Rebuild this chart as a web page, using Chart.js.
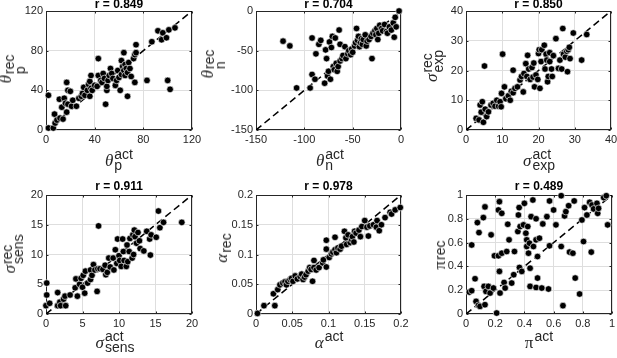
<!DOCTYPE html>
<html><head><meta charset="utf-8">
<script src="https://cdn.jsdelivr.net/npm/chart.js@4.4.0/dist/chart.umd.min.js"></script>
<style>
html,body{margin:0;padding:0;background:#fff;width:617px;height:358px;overflow:hidden;position:relative}
canvas{position:absolute}
.lab{position:absolute;display:flex;align-items:center;white-space:nowrap;color:#262626;transform:translate(-50%,-50%)}
.lab.y{transform:translate(-50%,-50%) rotate(-90deg)}
.g{font-family:"Liberation Serif";font-size:17px;line-height:17px;font-style:italic;position:relative}
.g.up{font-style:normal}
.ss{display:flex;flex-direction:column;font-family:"Liberation Sans";font-size:14px;line-height:11px;margin-left:1px}
</style></head><body>
<script>
// ---- data (actual, recovered) ----
const thetaP = [[2,2],[6,2],[2,35],[7,16],[7.5,7],[9,10],[11,31],[11.5,12],[14,11],[13,23],[15,32],[16,27],[17,18],[17,48],[18,40],[18,26],[20,39],[21,24],[22,30],[25,24],[27,32],[29,34],[30,37],[31,43],[32,35],[34,40],[35,46],[36,49],[36,34],[37,55],[37,42],[38,40],[40,45],[42,44],[43,72],[43,55],[45,50],[46,48],[47,57],[48,52],[49,26],[50,40],[50,44],[51,50],[52,55],[53,62],[54,57],[55,52],[57,45],[58,50],[59,60],[60,53],[61,40],[62,70],[62,56],[63,64],[64,78],[64,60],[65,55],[65,66],[66,62],[67,34],[67,58],[68,68],[69,62],[70,54],[72,72],[73,48],[73,76],[74,86],[74,78],[83,50],[87,89],[92,100],[95,91],[96,98],[99,93],[100,50],[101,101],[102,41],[106,103]];
const thetaN = [[-122,-38],[-115,-44],[-108,-97],[-94,-97],[-92,-80],[-92,-34],[-89,-86],[-88,-54],[-85,-42],[-83,-37],[-79,-91],[-78,-49],[-77,-60],[-76,-82],[-75,-76],[-74,-39],[-73,-86],[-72,-46],[-71,-32],[-70,-70],[-69,-74],[-68,-34],[-67,-66],[-66,-76],[-65,-70],[-64,-24],[-63,-42],[-63,-63],[-61,-60],[-60,-56],[-58,-45],[-57,-60],[-55,-54],[-54,-50],[-52,-55],[-51,-48],[-50,-52],[-48,-44],[-47,-40],[-46,-22],[-45,-37],[-44,-32],[-43,-45],[-42,-40],[-41,-35],[-40,-42],[-39,-36],[-37,-30],[-36,-44],[-35,-38],[-33,-36],[-31,-32],[-30,-60],[-29,-28],[-27,-25],[-26,-30],[-25,-22],[-24,-36],[-23,-28],[-22,-18],[-20,-22],[-19,-25],[-17,-17],[-15,-26],[-14,-28],[-12,-20],[-10,-24],[-8,-15],[-7,-33],[-6,-8],[-5,-20],[-2,0]];
const sigmaExp = [[2.8,3.9],[3.6,3.4],[3.9,8.4],[4.2,6.0],[4.5,9.5],[4.8,2.6],[5.1,21.5],[5.3,7.0],[5.7,4.5],[6.2,6.1],[6.9,8.4],[7.5,9.0],[8.0,8.0],[8.5,10.0],[9.0,8.0],[9.4,9.5],[9.7,7.8],[10.1,25.5],[9.8,12.3],[10.6,14.5],[11.0,10.5],[11.7,11.5],[12.2,10.0],[12.5,13.0],[13.0,20.1],[13.0,12.5],[13.5,14.0],[14.2,14.5],[14.9,16.8],[15.3,18.0],[15.8,12.8],[16.0,19.0],[16.5,22.3],[16.8,18.0],[17.0,25.1],[17.3,20.5],[17.7,17.0],[18.2,21.0],[18.5,17.8],[18.7,22.5],[18.9,14.5],[19.3,18.5],[19.8,17.0],[20.0,25.7],[20.2,27.0],[20.4,14.0],[20.7,23.0],[20.9,27.0],[21.6,28.5],[21.8,20.5],[22.1,25.5],[22.3,23.5],[22.5,16.2],[22.7,18.0],[23.1,26.0],[23.1,23.0],[23.6,20.5],[23.8,18.0],[24.1,25.0],[24.8,30.7],[25.5,20.7],[25.9,23.5],[26.4,20.5],[26.7,34.1],[26.9,25.5],[27.4,24.5],[27.8,26.5],[28.0,19.6],[28.2,27.0],[28.5,27.8],[28.7,24.0],[29.6,32.6],[31.9,23.5],[33.3,32.1]];
const sigmaSens = [[0.1,5.2],[0.1,3.2],[0,1.4],[0.5,1.8],[1.6,3.6],[1.6,1.4],[1.9,2.0],[2.0,1.4],[2.4,2.5],[2.7,1.4],[2.6,3.0],[3.3,3.2],[4.0,4.4],[4.1,5.9],[4.3,3.0],[4.6,5.0],[4.8,6.0],[5.0,4.5],[5.1,6.5],[5.4,7.2],[5.3,3.5],[5.7,5.2],[6.1,5.8],[6.1,7.4],[6.3,6.5],[6.5,8.3],[6.7,7.4],[7.0,3.8],[7.2,14.8],[7.1,7.6],[7.4,7.6],[7.8,7.5],[8.1,8.2],[8.2,6.6],[8.4,7.0],[8.6,9.4],[8.8,7.9],[9.2,9.4],[9.3,7.4],[9.5,10.8],[9.7,8.5],[9.8,12.6],[10.0,9.8],[10.1,9.0],[10.3,8.0],[10.5,12.6],[10.6,10.5],[10.7,9.0],[11.0,8.0],[11.1,11.6],[11.2,8.8],[11.4,10.5],[11.5,12.7],[11.8,9.4],[11.9,13.3],[12.0,10.0],[12.1,14.1],[12.2,13.0],[12.4,11.9],[12.6,13.7],[12.8,12.3],[12.9,11.0],[13.4,10.6],[13.8,13.9],[14.2,12.6],[14.3,9.9],[14.4,13.3],[15.1,12.9],[15.4,17.3],[15.6,14.5],[16.1,15.4],[18.6,15.4]];
const alphaVals = [[0.002,0.001],[0.011,0.014],[0.024,0.034],[0.026,0.014],[0.030,0.041],[0.033,0.049],[0.037,0.052],[0.040,0.054],[0.042,0.049],[0.044,0.055],[0.047,0.058],[0.049,0.060],[0.051,0.055],[0.054,0.064],[0.057,0.059],[0.061,0.063],[0.063,0.067],[0.065,0.058],[0.067,0.062],[0.069,0.066],[0.072,0.072],[0.074,0.078],[0.076,0.075],[0.078,0.055],[0.080,0.090],[0.080,0.078],[0.083,0.074],[0.087,0.078],[0.092,0.086],[0.093,0.091],[0.097,0.124],[0.097,0.109],[0.097,0.079],[0.101,0.095],[0.104,0.101],[0.106,0.104],[0.109,0.129],[0.109,0.108],[0.111,0.103],[0.113,0.111],[0.116,0.109],[0.118,0.114],[0.122,0.139],[0.124,0.128],[0.125,0.117],[0.127,0.133],[0.130,0.120],[0.132,0.125],[0.133,0.130],[0.135,0.121],[0.136,0.139],[0.138,0.136],[0.142,0.141],[0.144,0.130],[0.146,0.147],[0.150,0.157],[0.153,0.146],[0.155,0.131],[0.157,0.148],[0.162,0.150],[0.166,0.146],[0.167,0.157],[0.170,0.140],[0.173,0.150],[0.178,0.162],[0.185,0.171],[0.187,0.168],[0.192,0.175],[0.199,0.179]];
const piVals = [[0.023,0.184],[0.039,0.196],[0.039,0.58],[0.062,0.296],[0.069,0.106],[0.078,0.768],[0.085,0.073],[0.089,0.684],[0.096,0.064],[0.119,0.81],[0.124,0.232],[0.13,0.9],[0.13,0.078],[0.137,0.19],[0.153,0.232],[0.165,0.176],[0.172,0.665],[0.188,0.218],[0.195,0.489],[0.21,0.008],[0.222,0.489],[0.222,0.874],[0.229,0.944],[0.229,0.358],[0.233,0.176],[0.245,0.846],[0.245,0.511],[0.261,0.265],[0.268,0.218],[0.279,0.525],[0.286,0.754],[0.295,0.623],[0.313,0.26],[0.327,0.33],[0.332,0.525],[0.355,0.693],[0.359,0.832],[0.364,0.894],[0.366,0.391],[0.371,0.735],[0.382,0.358],[0.394,0.749],[0.4,0.93],[0.41,0.679],[0.416,0.623],[0.416,0.567],[0.423,0.735],[0.428,0.511],[0.435,0.595],[0.439,0.232],[0.439,0.385],[0.446,0.818],[0.458,0.958],[0.462,0.567],[0.48,0.623],[0.48,0.223],[0.48,0.8],[0.49,0.483],[0.49,0.302],[0.503,0.637],[0.519,0.218],[0.526,0.757],[0.554,0.818],[0.565,0.21],[0.572,0.573],[0.572,0.95],[0.6,0.874],[0.616,0.749],[0.652,0.994],[0.652,0.567],[0.664,0.07],[0.675,0.824],[0.684,0.86],[0.703,0.91],[0.709,0.52],[0.732,0.511],[0.741,0.95],[0.748,0.302],[0.778,0.168],[0.794,0.79],[0.805,0.609],[0.812,0.894],[0.828,0.832],[0.847,0.939],[0.858,0.52],[0.863,0.916],[0.874,0.883],[0.897,0.93],[0.902,0.846],[0.908,0.888],[0.943,0.978],[0.961,0.994],[0.97,0.749]];

const titles = ['r = 0.849','r = 0.704','r = 0.850','r = 0.911','r = 0.978','r = 0.489'];
const thetaPTicks = [0,40,80,120];      const thetaPTickLabels = ['0','40','80','120'];
const thetaNTicks = [-150,-100,-50,0];  const thetaNTickLabels = ['-150','-100','-50','0'];
const sigmaExpTicks = [0,10,20,30,40];  const sigmaExpTickLabels = ['0','10','20','30','40'];
const sigmaSensTicks = [0,5,10,15,20];  const sigmaSensTickLabels = ['0','5','10','15','20'];
const alphaTicks = [0,0.05,0.1,0.15,0.2]; const alphaTickLabels = ['0','0.05','0.1','0.15','0.2'];
const piTicks = [0,0.2,0.4,0.6,0.8,1];  const piTickLabels = ['0','0.2','0.4','0.6','0.8','1'];

// ---- layout ----
const panels = [
  {data:thetaP, ticks:thetaPTicks, labels:thetaPTickLabels, l:46, r:192, t:11, b:130, row:0,
   g:'θ', gUp:false, sub:'p', xl:[119,160], yl:[15,69], shift:-10},
  {data:thetaN, ticks:thetaNTicks, labels:thetaNTickLabels, l:256, r:401, t:11, b:130, row:0,
   g:'θ', gUp:false, sub:'n', xl:[330,160], yl:[215,64], shift:-8},
  {data:sigmaExp, ticks:sigmaExpTicks, labels:sigmaExpTickLabels, l:466, r:611, t:11, b:130, row:0,
   g:'σ', gUp:false, sub:'exp', xl:[539,160], yl:[433,66], shift:-2},
  {data:sigmaSens, ticks:sigmaSensTicks, labels:sigmaSensTickLabels, l:46, r:192, t:195, b:314, row:1,
   g:'σ', gUp:false, sub:'sens', xl:[115,342], yl:[13,254], shift:-4},
  {data:alphaVals, ticks:alphaTicks, labels:alphaTickLabels, l:256, r:401, t:195, b:314, row:1,
   g:'α', gUp:false, sub:'', xl:[329,342], yl:[232,248], shift:-11},
  {data:piVals, ticks:piTicks, labels:piTickLabels, l:466, r:612, t:195, b:314, row:1,
   g:'π', gUp:true, sub:'', xl:[539,342], yl:[446,255], shift:-7}
];

const YW = 46, XH = 20, PR = 14;

const boxPlugin = {
  id:'box',
  beforeDatasetsDraw(chart){
    const {ctx, chartArea:a, scales} = chart;
    ctx.save();
    ctx.strokeStyle = '#262626'; ctx.lineWidth = 1;
    const L = Math.round(a.left)+0.5, T = Math.round(a.top)+0.5;
    const R = Math.round(a.right)-0.5, B = Math.round(a.bottom)-0.5;
    ctx.strokeRect(L, T, R-L, B-T);
    ctx.beginPath();
    scales.x.ticks.forEach(tk => {
      const px = Math.round(scales.x.getPixelForValue(tk.value))+0.5;
      ctx.moveTo(px, B); ctx.lineTo(px, B-2);
      ctx.moveTo(px, T); ctx.lineTo(px, T+2);
    });
    scales.y.ticks.forEach(tk => {
      const py = Math.round(scales.y.getPixelForValue(tk.value))+0.5;
      ctx.moveTo(L, py); ctx.lineTo(L+2, py);
      ctx.moveTo(R, py); ctx.lineTo(R-2, py);
    });
    ctx.stroke();
    ctx.restore();
  }
};

function axisOpts(p, isX){
  return {
    type:'linear', min:p.ticks[0], max:p.ticks[p.ticks.length-1],
    afterBuildTicks: s => { s.ticks = p.ticks.map(v => ({value:v})); },
    afterFit: s => { if (isX) s.height = XH; else s.width = YW; },
    grid:{color:'#dedede', lineWidth:1, drawTicks:false},
    border:{display:false},
    ticks:{callback:(v,i) => p.labels[i], color:'#262626', padding:3, maxRotation:0, autoSkip:false,
           font:{family:'Liberation Sans', size:11}}
  };
}

panels.forEach((p, k) => {
  const titleH = p.row === 0 ? 12 : 14;
  const cTop = p.t - titleH;
  const cLeft = p.l - YW;
  const cv = document.createElement('canvas');
  const w = (p.r - p.l) + YW + PR, h = (p.b - cTop) + XH;
  cv.width = w; cv.height = h;
  cv.style.left = cLeft + 'px'; cv.style.top = cTop + 'px';
  cv.style.width = w + 'px'; cv.style.height = h + 'px';
  document.body.appendChild(cv);
  const lo = p.ticks[0], hi = p.ticks[p.ticks.length-1];
  new Chart(cv, {
    type:'scatter',
    data:{datasets:[
      {data:p.data.map(d => ({x:d[0], y:d[1]})), order:1, clip:false,
       pointRadius:3.3, pointBackgroundColor:'#000', pointBorderColor:'#fff', pointBorderWidth:0.6},
      {data:[{x:lo,y:lo},{x:hi,y:hi}], order:2, showLine:true, pointRadius:0,
       borderColor:'#000', borderWidth:1.5, borderDash:[7,4]}
    ]},
    options:{
      responsive:false, animation:false, devicePixelRatio:1,
      layout:{padding:{left:0, right:PR, top:0, bottom:0}},
      plugins:{
        legend:{display:false}, tooltip:{enabled:false},
        title:{display:true, text:titles[k], fullSize:false, color:'#000',
               font:{family:'Liberation Sans', size:12, weight:'bold', lineHeight:1},
               padding:{top:0, bottom:titleH-12}}
      },
      scales:{x:axisOpts(p,true), y:axisOpts(p,false)}
    },
    plugins:[boxPlugin]
  });

  // axis labels as HTML text with super/subscripts
  const mk = (sup, pos, isY) => {
    const d = document.createElement('div');
    d.className = 'lab' + (isY ? ' y' : '');
    d.style.left = pos[0] + 'px'; d.style.top = pos[1] + 'px';
    const g = document.createElement('span');
    g.className = 'g' + (p.gUp ? ' up' : '');
    g.textContent = p.g;
    if (isY) g.style.top = p.shift + 'px';
    const ss = document.createElement('span'); ss.className = 'ss';
    const a = document.createElement('span'); a.textContent = sup;
    const b = document.createElement('span'); b.innerHTML = p.sub || '&nbsp;';
    ss.appendChild(a); ss.appendChild(b);
    d.appendChild(g); d.appendChild(ss);
    document.body.appendChild(d);
  };
  mk('act', p.xl, false);
  mk('rec', p.yl, true);
});
</script>
</body></html>
